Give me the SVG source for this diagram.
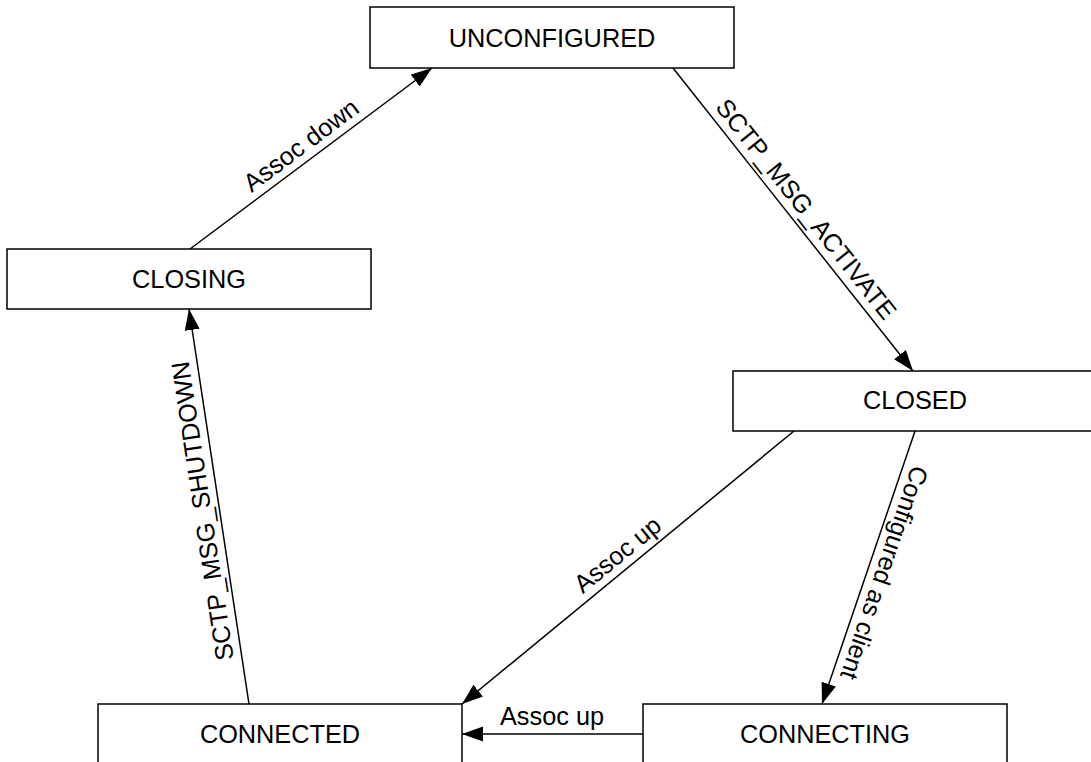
<svg xmlns="http://www.w3.org/2000/svg" width="1091" height="762" viewBox="0 0 1091 762">
<style>
.node rect{fill:#ffffff;stroke:#000000;stroke-width:1.5}
.node text{font-family:"Liberation Sans",Arial,sans-serif;font-size:25.3px;fill:#000000;text-anchor:middle}
.edge line{stroke:#000000;stroke-width:1.5;fill:none;marker-end:url(#arrow)}
.lbl{font-family:"Liberation Sans",Arial,sans-serif;font-size:25.3px;fill:#000000;text-anchor:middle}
</style>
<defs>
<marker id="arrow" markerUnits="userSpaceOnUse" markerWidth="22" markerHeight="16" refX="21" refY="7.5" orient="auto">
<path d="M0,0 L21,7.5 L0,15 z" fill="#000000"/>
</marker>
</defs>
<rect x="0" y="0" width="1091" height="762" fill="#ffffff"/>
<g id="connectors">
<g class="edge" id="e-closing-unconfigured">
<line x1="190" y1="249" x2="432" y2="68"/>
<text class="lbl" transform="translate(306.2,152.1) rotate(-36.8)">Assoc down</text>
</g>
<g class="edge" id="e-unconfigured-closed">
<line x1="673" y1="68" x2="913" y2="371"/>
<text class="lbl" transform="translate(799.3,214.5) rotate(51.6)">SCTP_MSG_ACTIVATE</text>
</g>
<g class="edge" id="e-closed-connected">
<line x1="794" y1="431" x2="462" y2="704"/>
<text class="lbl" transform="translate(622.9,561.3) rotate(-39.4)">Assoc up</text>
</g>
<g class="edge" id="e-closed-connecting">
<line x1="915" y1="431" x2="822" y2="704"/>
<text class="lbl" transform="translate(876.1,570.1) rotate(108.8)">Configured as client</text>
</g>
<g class="edge" id="e-connecting-connected">
<line x1="643" y1="734" x2="462" y2="734"/>
<text class="lbl" x="552" y="725">Assoc up</text>
</g>
<g class="edge" id="e-connected-closing">
<line x1="249" y1="704" x2="189" y2="309"/>
<text class="lbl" transform="translate(211.1,509.7) rotate(-98.6)">SCTP_MSG_SHUTDOWN</text>
</g>
</g>
<g class="node" id="n-unconfigured">
<rect x="370" y="7" width="364" height="61"/>
<text x="552" y="46.5">UNCONFIGURED</text>
</g>
<g class="node" id="n-closing">
<rect x="7" y="249" width="364" height="60"/>
<text x="189" y="288">CLOSING</text>
</g>
<g class="node" id="n-closed">
<rect x="733" y="371" width="364" height="60"/>
<text x="915" y="409">CLOSED</text>
</g>
<g class="node" id="n-connected">
<rect x="98" y="704" width="364" height="61"/>
<text x="280" y="743">CONNECTED</text>
</g>
<g class="node" id="n-connecting">
<rect x="643" y="704" width="364" height="61"/>
<text x="825" y="743">CONNECTING</text>
</g>
</svg>
